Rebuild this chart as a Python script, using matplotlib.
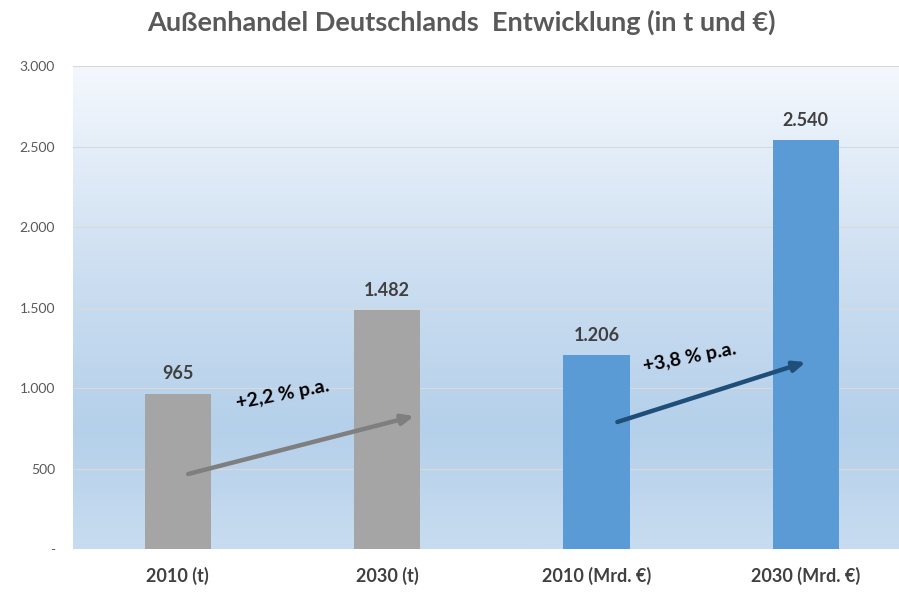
import matplotlib.pyplot as plt
import numpy as np
from matplotlib.colors import LinearSegmentedColormap

# data
categories = ["2010 (t)", "2030 (t)", "2010 (Mrd. €)", "2030 (Mrd. €)"]
values = [965, 1482, 1206, 2540]
value_labels = ["965", "1.482", "1.206", "2.540"]
bar_colors = ["#a5a5a5", "#a5a5a5", "#5b9bd5", "#5b9bd5"]
y_ticks = [0, 500, 1000, 1500, 2000, 2500, 3000]
y_tick_labels = ["-", "500", "1.000", "1.500", "2.000", "2.500", "3.000"]

# growth arrows: (start x, start y, end x, end y), label
arrow_t = (0.05, 466, 1.13, 826)
arrow_eur = (2.10, 789, 3.00, 1161)
growth_t = "+2,2 % p.a."
growth_eur = "+3,8 % p.a."

plt.rcParams['font.family'] = ['Lato', 'DejaVu Sans']

fig = plt.figure(figsize=(8.99, 5.92), dpi=100)
ax = fig.add_axes([0.0812, 0.0726, 0.9188, 0.8159])

# gradient background
cmap = LinearSegmentedColormap.from_list(
    "bg", [(0.0, "#c7dcf0"), (0.25, "#b5d0ea"), (0.6, "#cfe0f2"), (1.0, "#f4f8fd")])
grad = np.linspace(0, 1, 256).reshape(-1, 1)
ax.imshow(grad, aspect="auto", cmap=cmap, origin="lower",
          extent=[0, 1, 0, 1], transform=ax.transAxes, zorder=0)

x = np.arange(len(categories))
ax.bar(x, values, width=0.316, color=bar_colors, zorder=3)

for xi, v, lab in zip(x, values, value_labels):
    ax.text(xi, v + 70, lab, ha="center", va="bottom", fontsize=13,
            fontweight="bold", color="#404040", zorder=4)

ax.set_xlim(-0.5, 3.445)
ax.set_ylim(0, 3000)
ax.set_yticks(y_ticks)
ax.set_yticklabels(y_tick_labels, fontsize=10, color="#595959")
ax.set_xticks(x)
ax.set_xticklabels(categories, fontsize=13, fontweight="bold", color="#404040")
ax.tick_params(axis="both", length=0)
ax.tick_params(axis="y", pad=13)
ax.tick_params(axis="x", pad=13)
ax.grid(axis="y", color="#d9d9d9", linewidth=0.8, zorder=1)
ax.set_axisbelow(True)
for s in ax.spines.values():
    s.set_visible(False)

ax.annotate("", xy=arrow_t[2:], xytext=arrow_t[:2],
            arrowprops=dict(arrowstyle="-|>,head_length=0.7,head_width=0.3",
                            color="#7f7f7f", lw=3.2, shrinkA=0, shrinkB=0), zorder=5)
ax.annotate("", xy=arrow_eur[2:], xytext=arrow_eur[:2],
            arrowprops=dict(arrowstyle="-|>,head_length=0.7,head_width=0.3",
                            color="#1f4e79", lw=3.2, shrinkA=0, shrinkB=0), zorder=5)

ax.text(0.50, 956, growth_t, rotation=11, ha="center", va="center",
        fontsize=14, fontweight="bold", color="black", zorder=5)
ax.text(2.445, 1186, growth_eur, rotation=11, ha="center", va="center",
        fontsize=14, fontweight="bold", color="black", zorder=5)

fig.text(0.513, 0.962, "Außenhandel Deutschlands  Entwicklung (in t und €)",
         ha="center", va="center", fontsize=19.5, fontweight="bold", color="#595959")

fig.savefig("out.png", dpi=100)
